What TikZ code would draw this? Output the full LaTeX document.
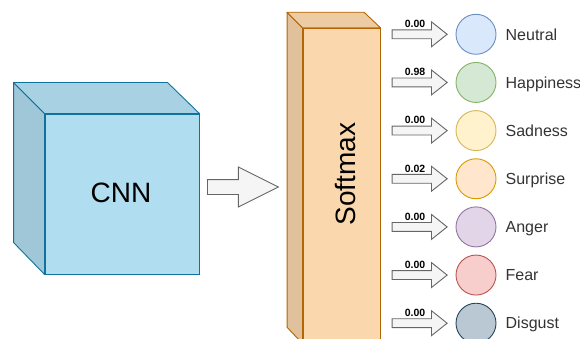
\documentclass[tikz,border=0pt]{standalone}
\usepackage{fontspec}
\setmainfont{Liberation Sans}
\usetikzlibrary{shapes.arrows,positioning}

\definecolor{cnnfill}{HTML}{B1DDF0}
\definecolor{cnnline}{HTML}{10739E}
\definecolor{smfill}{HTML}{FAD7AC}
\definecolor{smline}{HTML}{B46504}
\definecolor{arrfill}{HTML}{F5F5F5}
\definecolor{arrline}{HTML}{666666}
\definecolor{neutralfill}{HTML}{DAE8FC}
\definecolor{neutralline}{HTML}{6C8EBF}
\definecolor{happyfill}{HTML}{D5E8D4}
\definecolor{happyline}{HTML}{82B366}
\definecolor{sadfill}{HTML}{FFF2CC}
\definecolor{sadline}{HTML}{D6B656}
\definecolor{surprisefill}{HTML}{FFE6CC}
\definecolor{surpriseline}{HTML}{D79B00}
\definecolor{angerfill}{HTML}{E1D5E7}
\definecolor{angerline}{HTML}{9673A6}
\definecolor{fearfill}{HTML}{F8CECC}
\definecolor{fearline}{HTML}{B85450}
\definecolor{disgustfill}{HTML}{BAC8D3}
\definecolor{disgustline}{HTML}{23445D}

\tikzset{
  bigarrow/.style={single arrow, draw=arrline, fill=arrfill, line width=0.9pt,
    inner xsep=0pt, inner ysep=7pt, single arrow head extend=12.5pt,
    single arrow tip angle=53, minimum height=71pt, anchor=tail},
  valarrow/.style={single arrow, draw=arrline, fill=arrfill, line width=0.9pt,
    inner xsep=0pt, inner ysep=4pt, single arrow head extend=8pt,
    single arrow tip angle=77, minimum height=55pt, anchor=tail},
  emo/.style={circle, minimum size=40pt, inner sep=0pt, line width=0.9pt,
    fill=#1fill, draw=#1line},
  emolabel/.style={inner sep=0pt, anchor=west, text height=11.5pt, text depth=0pt,
    font=\fontsize{16}{19}\selectfont, text=black!80},
  vallabel/.style={inner sep=0pt, font=\bfseries\fontsize{10.5}{12}\selectfont},
}

\begin{document}
\begin{tikzpicture}[x=1pt, y=-1pt]
  \useasboundingbox (0,0) rectangle (580,339);

  % CNN block
  \node[draw=cnnline, fill=cnnfill, line width=0.9pt, minimum width=154pt,
    minimum height=160pt, inner sep=0pt] (cnn) at (122,194) {};
  \filldraw[fill=cnnfill!90!black, draw=cnnline, line width=0.9pt, line join=round]
    (cnn.north west) -- ++(-31,-31) -- ++(0,160) -- (cnn.south west) -- cycle;
  \filldraw[fill=cnnfill!95!black, draw=cnnline, line width=0.9pt, line join=round]
    (cnn.north west) -- ++(-31,-31) -- ++(154,0) -- (cnn.north east) -- cycle;
  \node[font=\fontsize{28}{32}\selectfont] (cnntext) at (121,193) {CNN};

  \node[bigarrow] (big) at (207,187) {};

  % Softmax block
  \node[draw=smline, fill=smfill, line width=0.9pt, minimum width=77pt,
    minimum height=315pt, inner sep=0pt] (sm) at (341.5,185.7) {};
  \filldraw[fill=smfill!90!black, draw=smline, line width=0.9pt, line join=round]
    (sm.north west) -- ++(-15.5,-15.5) -- ++(0,315) -- (sm.south west) -- cycle;
  \filldraw[fill=smfill!95!black, draw=smline, line width=0.9pt, line join=round]
    (sm.north west) -- ++(-15.5,-15.5) -- ++(77,0) -- (sm.north east) -- cycle;
  \node[rotate=90, font=\fontsize{28}{32}\selectfont] (smtext) at (345,174) {Softmax};

  % outputs
  \foreach \name/\val/\col [count=\i from 0] in {Neutral/0.00/neutral,
      Happiness/0.98/happy, Sadness/0.00/sad, Surprise/0.02/surprise,
      Anger/0.00/anger, Fear/0.00/fear, Disgust/0.00/disgust} {
    \node[valarrow] (a\i) at (391.7, 34.3+48.15*\i) {};
    \node[vallabel] (v\i) at (415, 24+48.15*\i) {\val};
    \node[emo=\col] (e\i) at (476, 34.3+48.15*\i) {};
    \node[emolabel, right=9pt of e\i] (t\i) {\name};
  }
\end{tikzpicture}
\end{document}
